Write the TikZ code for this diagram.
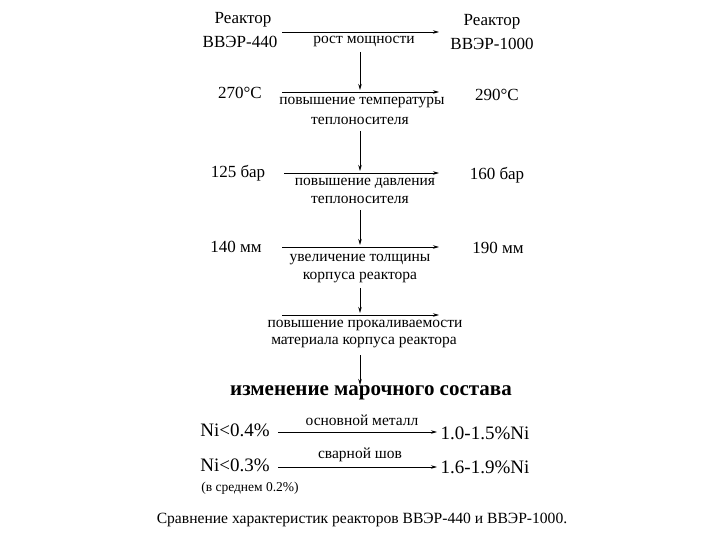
\documentclass[tikz,border=0pt]{standalone}
\usepackage{fontspec}
\setmainfont{Liberation Serif}
\usetikzlibrary{arrows.meta}
\begin{document}
\begin{tikzpicture}[x=1pt,y=-1pt,
  big/.style={font=\fontsize{17}{19}\selectfont, inner sep=0pt},
  small/.style={font=\fontsize{15.5}{17}\selectfont, inner sep=0pt},
  ni/.style={font=\fontsize{19}{21}\selectfont, inner sep=0pt},
  arr/.style={line width=0.8pt, -{Stealth[length=6pt,width=3.5pt]}}]
\useasboundingbox (0,0) rectangle (720,540);
\fill[white] (0,0) rectangle (720,540);
% headers
\node[big] (r1a) at (243,20) {Реактор};
\node[big] (r1b) at (240,42) {ВВЭР-440};
\node[big] (r2a) at (492,22) {Реактор};
\node[big] (r2b) at (492,44) {ВВЭР-1000};
\node[small] (l1) at (364,42) {рост мощности};
\coordinate (h1s) at (282,32); \coordinate (h1e) at (439,32);
\draw[arr] (h1s) -- (h1e);
% temperature
\node[big] (t1) at (240,93) {270°C};
\node[big] (t2) at (497,95) {290°C};
\coordinate (h2s) at (282,92); \coordinate (h2e) at (439,92);
\draw[arr] (h2s) -- (h2e);
\node[small] (l2a) at (362,103) {повышение температуры};
\node[small] (l2b) at (360,121) {теплоносителя};
\draw[arr] (360,52) -- (360,90);
% pressure
\node[big] (p1) at (238,173) {125 бар};
\node[big] (p2) at (497,175) {160 бар};
\coordinate (h3s) at (284,173); \coordinate (h3e) at (439,173);
\draw[arr] (h3s) -- (h3e);
\node[small] (l3a) at (365,183) {повышение давления};
\node[small] (l3b) at (360,200) {теплоносителя};
\draw[arr] (360,131) -- (360,171);
% thickness
\node[big] (m1) at (236,247) {140 мм};
\node[big] (m2) at (498,248) {190 мм};
\coordinate (h4s) at (282,247); \coordinate (h4e) at (439,247);
\draw[arr] (h4s) -- (h4e);
\node[small] (l4a) at (360,260) {увеличение толщины};
\node[small] (l4b) at (360,278) {корпуса реактора};
\draw[arr] (360,210) -- (360,245);
% hardenability
\coordinate (h5s) at (282,315); \coordinate (h5e) at (439,315);
\draw[arr] (h5s) -- (h5e);
\node[small] (l5a) at (365,325) {повышение прокаливаемости};
\node[small] (l5b) at (364,343) {материала корпуса реактора};
\draw[arr] (360,288) -- (360,313);
\draw[arr] (360,355) -- (360,385);
% composition
\node[font=\fontsize{21}{23}\selectfont\bfseries, inner sep=0pt] (comp) at (371,393) {изменение марочного состава};
\node[ni] (n1) at (235,430) {Ni<0.4\%};
\node[ni] (n2) at (485,433) {1.0-1.5\%Ni};
\node[small] (l6) at (362,420) {основной металл};
\coordinate (h6s) at (278,432); \coordinate (h6e) at (437,432);
\draw[arr] (h6s) -- (h6e);
\node[ni] (n3) at (235,465) {Ni<0.3\%};
\node[ni] (n4) at (485,467) {1.6-1.9\%Ni};
\node[small] (l7) at (360,455) {сварной шов};
\coordinate (h7s) at (278,467); \coordinate (h7e) at (437,467);
\draw[arr] (h7s) -- (h7e);
\node[font=\fontsize{13.5}{15}\selectfont, inner sep=0pt] (avg) at (250,488) {(в среднем 0.2\%)};
\node[font=\fontsize{15.6}{17}\selectfont, inner sep=0pt] (cap) at (362,520) {Сравнение характеристик реакторов ВВЭР-440 и ВВЭР-1000.};
\end{tikzpicture}
\end{document}
